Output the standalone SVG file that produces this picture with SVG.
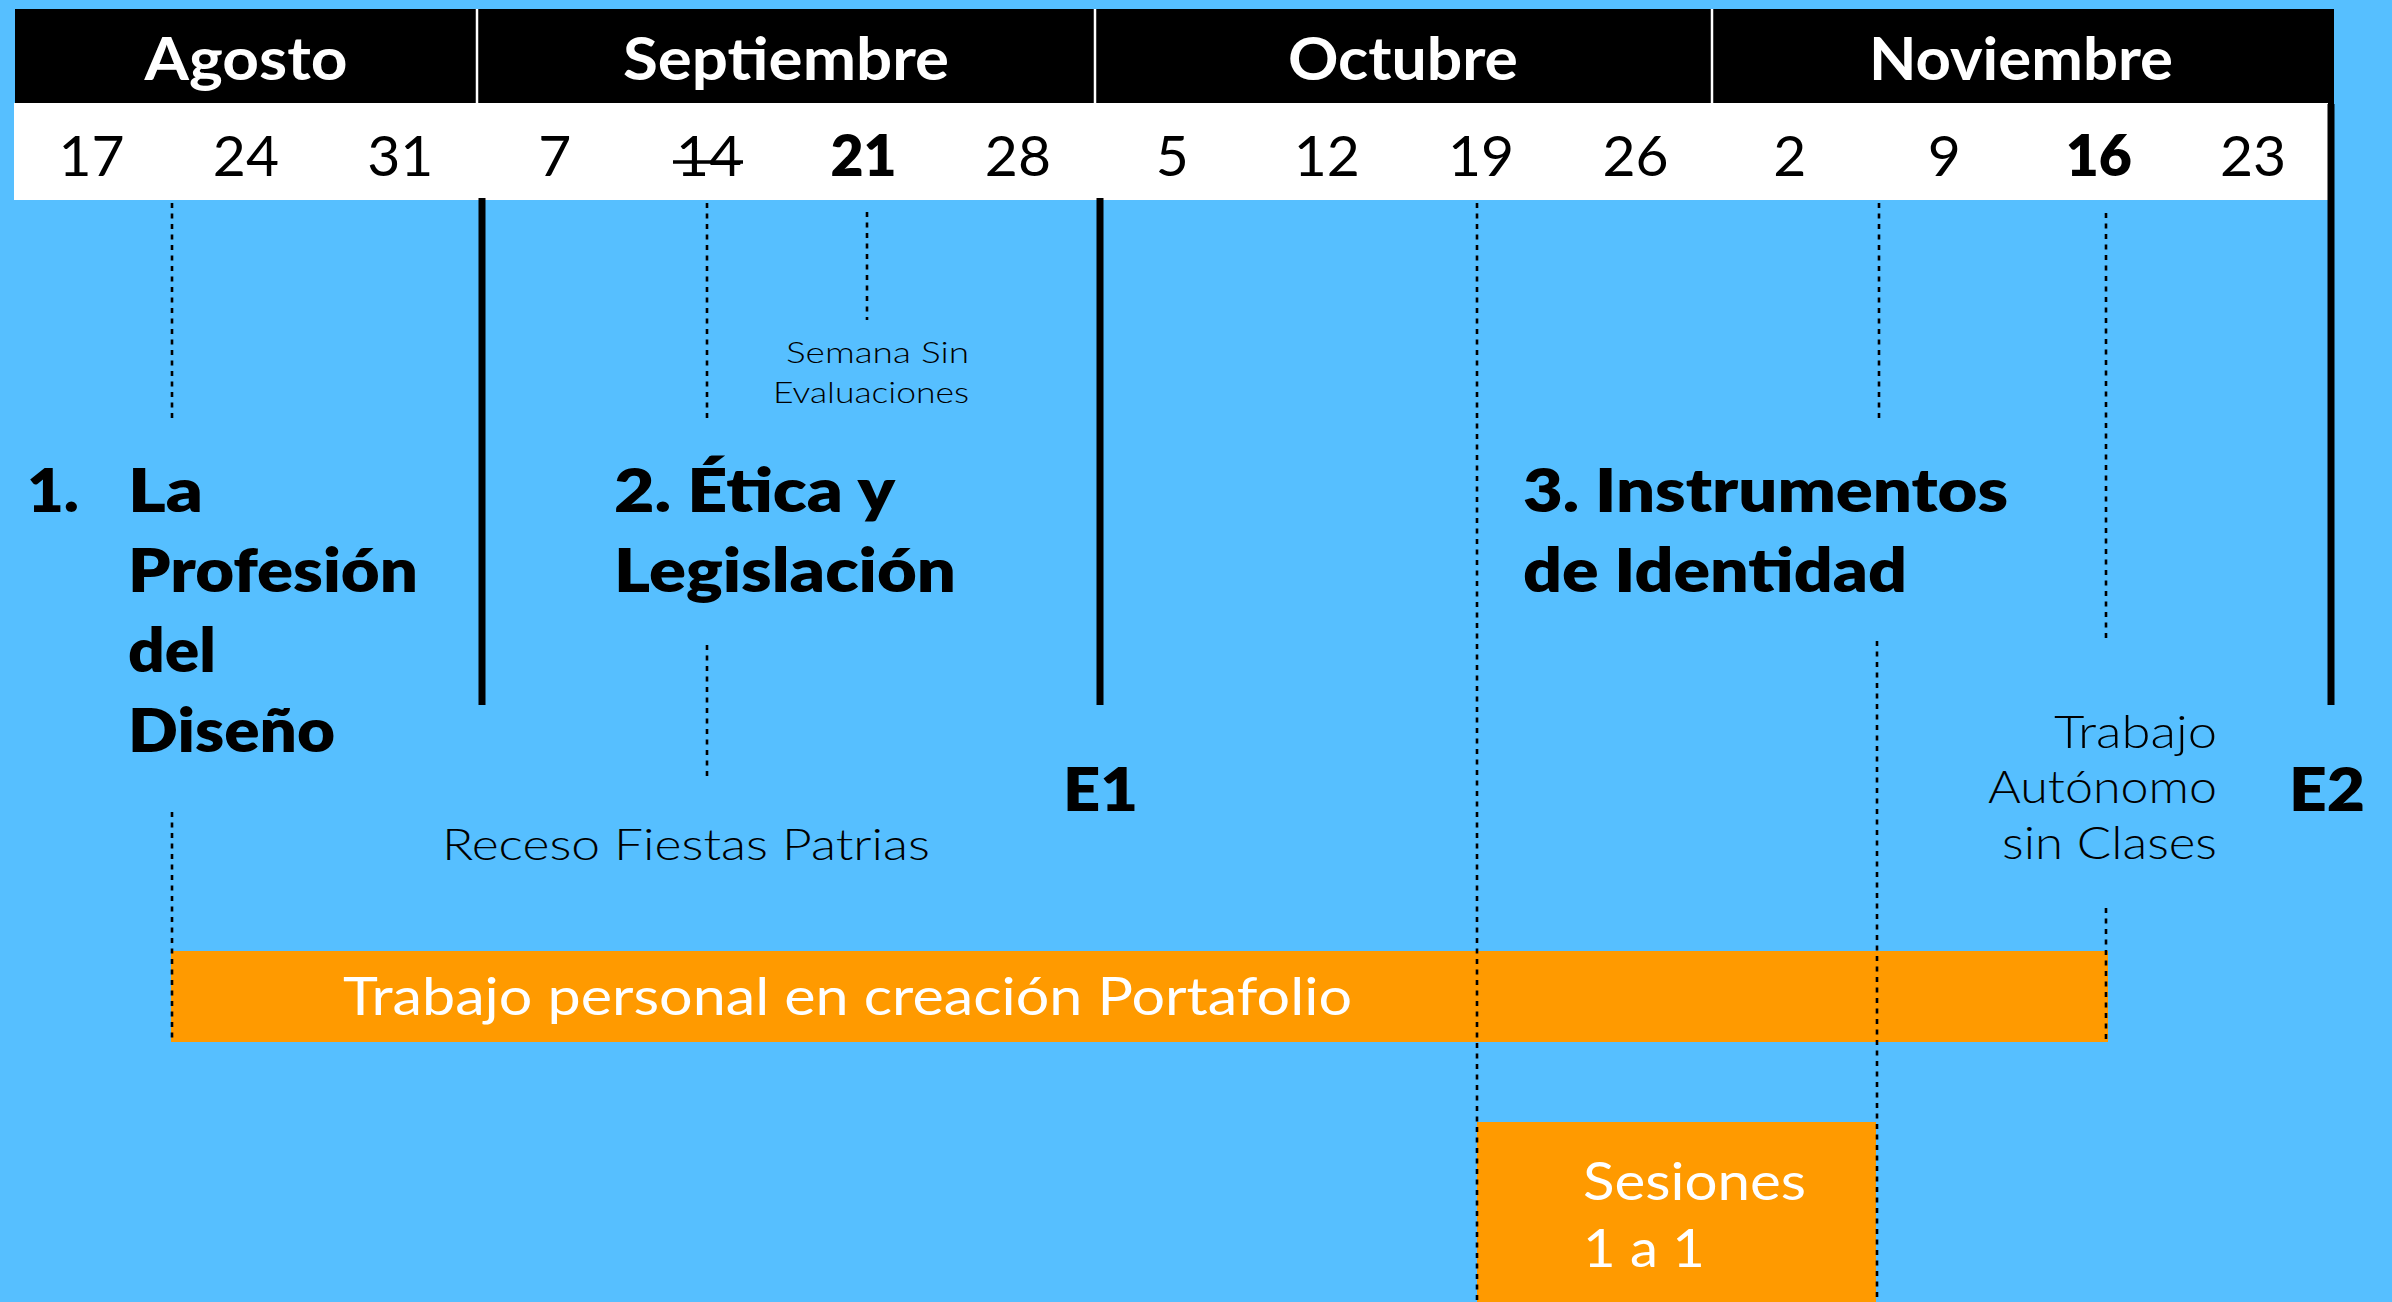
<svg xmlns="http://www.w3.org/2000/svg" width="2392" height="1302" viewBox="0 0 2392 1302">
<style>
.month{font-family:Lato,"Liberation Sans",sans-serif;font-weight:700;font-size:59px;fill:#fff;text-anchor:middle}
.date{font-family:Lato,"Liberation Sans",sans-serif;font-weight:400;font-size:57px;fill:#000;text-anchor:middle}
.bd{font-weight:800}
.title{font-family:Lato,"Liberation Sans",sans-serif;font-weight:800;font-size:61px;fill:#000}
.lbl{font-family:Lato,"Liberation Sans",sans-serif;font-weight:300;fill:#000}
.wt{font-family:Lato,"Liberation Sans",sans-serif;font-weight:400;font-size:52px;fill:#fff}
.dot{stroke:#000;stroke-width:2.6;stroke-dasharray:5 5.5;fill:none}
.thick{stroke:#000;stroke-width:7;fill:none}
.bar{fill:#FF9A00}
</style>
<rect width="2392" height="1302" fill="#56BFFF"/>
<g id="header">
<rect x="15" y="9" width="2319" height="95" fill="#000"/>
<rect x="14" y="103" width="2314" height="97" fill="#fff"/>
<g stroke="#fff" stroke-width="2.5"><line x1="477" y1="9" x2="477" y2="103"/><line x1="1095" y1="9" x2="1095" y2="103"/><line x1="1712" y1="9" x2="1712" y2="103"/></g>
<text class="month" x="246" y="80" textLength="203" lengthAdjust="spacingAndGlyphs">Agosto</text>
<text class="month" x="786" y="80" textLength="326" lengthAdjust="spacingAndGlyphs">Septiembre</text>
<text class="month" x="1403" y="80" textLength="230" lengthAdjust="spacingAndGlyphs">Octubre</text>
<text class="month" x="2021" y="80" textLength="304" lengthAdjust="spacingAndGlyphs">Noviembre</text>
</g>
<g id="dates">
<text class="date" x="91.5" y="176">17</text>
<text class="date" x="245.9" y="176">24</text>
<text class="date" x="400.3" y="176">31</text>
<text class="date" x="554.7" y="176">7</text>
<text class="date" x="709.1" y="176">14</text>
<line x1="673" y1="162" x2="743" y2="162" stroke="#000" stroke-width="3.5"/>
<text class="date bd" x="863.5" y="176">21</text>
<text class="date" x="1017.9" y="176">28</text>
<text class="date" x="1172.3" y="176">5</text>
<text class="date" x="1326.7" y="176">12</text>
<text class="date" x="1481.1" y="176">19</text>
<text class="date" x="1635.5" y="176">26</text>
<text class="date" x="1789.9" y="176">2</text>
<text class="date" x="1944.3" y="176">9</text>
<text class="date bd" x="2098.7" y="176">16</text>
<text class="date" x="2253.1" y="176">23</text>
</g>
<g id="bar-portafolio">
<rect class="bar" x="171" y="951" width="1937" height="91"/>
<text class="wt" x="343" y="1015" textLength="1009" lengthAdjust="spacingAndGlyphs">Trabajo personal en creación Portafolio</text>
</g>
<g id="bar-sesiones">
<rect class="bar" x="1477" y="1122" width="399" height="180"/>
<text class="wt" x="1583" y="1200" textLength="223" lengthAdjust="spacingAndGlyphs">Sesiones</text>
<text class="wt" x="1583" y="1267" textLength="122" lengthAdjust="spacingAndGlyphs">1 a 1</text>
</g>
<g id="connectors">
<line class="dot" x1="172" y1="203" x2="172" y2="420"/>
<line class="dot" x1="172" y1="812" x2="172" y2="1042"/>
<line class="dot" x1="707" y1="203" x2="707" y2="420"/>
<line class="dot" x1="707" y1="645" x2="707" y2="779"/>
<line class="dot" x1="867" y1="212" x2="867" y2="320"/>
<line class="dot" x1="1477" y1="203" x2="1477" y2="1302"/>
<line class="dot" x1="1879" y1="203" x2="1879" y2="420"/>
<line class="dot" x1="1877" y1="641" x2="1877" y2="1302"/>
<line class="dot" x1="2106" y1="213" x2="2106" y2="641"/>
<line class="dot" x1="2106" y1="908" x2="2106" y2="1042"/>
<line class="thick" x1="482" y1="198" x2="482" y2="705"/>
<line class="thick" x1="1100" y1="198" x2="1100" y2="705"/>
<line class="thick" x1="2331" y1="104" x2="2331" y2="705"/>
</g>
<g id="unit1">
<text class="title" x="27" y="512" textLength="52" lengthAdjust="spacingAndGlyphs">1.</text>
<text class="title" x="128" y="512" textLength="75" lengthAdjust="spacingAndGlyphs">La</text>
<text class="title" x="128" y="592" textLength="290" lengthAdjust="spacingAndGlyphs">Profesión</text>
<text class="title" x="128" y="672" textLength="88" lengthAdjust="spacingAndGlyphs">del</text>
<text class="title" x="128" y="752" textLength="207" lengthAdjust="spacingAndGlyphs">Diseño</text>
</g>
<g id="unit2">
<text class="title" x="614" y="512" textLength="281" lengthAdjust="spacingAndGlyphs">2. Ética y</text>
<text class="title" x="614" y="592" textLength="342" lengthAdjust="spacingAndGlyphs">Legislación</text>
</g>
<g id="unit3">
<text class="title" x="1523" y="512" textLength="485" lengthAdjust="spacingAndGlyphs">3. Instrumentos</text>
<text class="title" x="1523" y="592" textLength="384" lengthAdjust="spacingAndGlyphs">de Identidad</text>
</g>
<g id="e1"><text class="title" x="1063" y="811" textLength="75" lengthAdjust="spacingAndGlyphs">E1</text></g>
<g id="e2"><text class="title" x="2289" y="811" textLength="76" lengthAdjust="spacingAndGlyphs">E2</text></g>
<g id="semana">
<text class="lbl" x="969" y="363" font-size="30" text-anchor="end" textLength="183" lengthAdjust="spacingAndGlyphs">Semana Sin</text>
<text class="lbl" x="969" y="403" font-size="30" text-anchor="end" textLength="196" lengthAdjust="spacingAndGlyphs">Evaluaciones</text>
</g>
<g id="receso"><text class="lbl" x="442" y="860" font-size="44" textLength="488" lengthAdjust="spacingAndGlyphs">Receso Fiestas Patrias</text></g>
<g id="autonomo">
<text class="lbl" x="2217" y="748" font-size="45" text-anchor="end" textLength="163" lengthAdjust="spacingAndGlyphs">Trabajo</text>
<text class="lbl" x="2217" y="803" font-size="45" text-anchor="end" textLength="229" lengthAdjust="spacingAndGlyphs">Autónomo</text>
<text class="lbl" x="2217" y="859" font-size="45" text-anchor="end" textLength="215" lengthAdjust="spacingAndGlyphs">sin Clases</text>
</g>
</svg>
